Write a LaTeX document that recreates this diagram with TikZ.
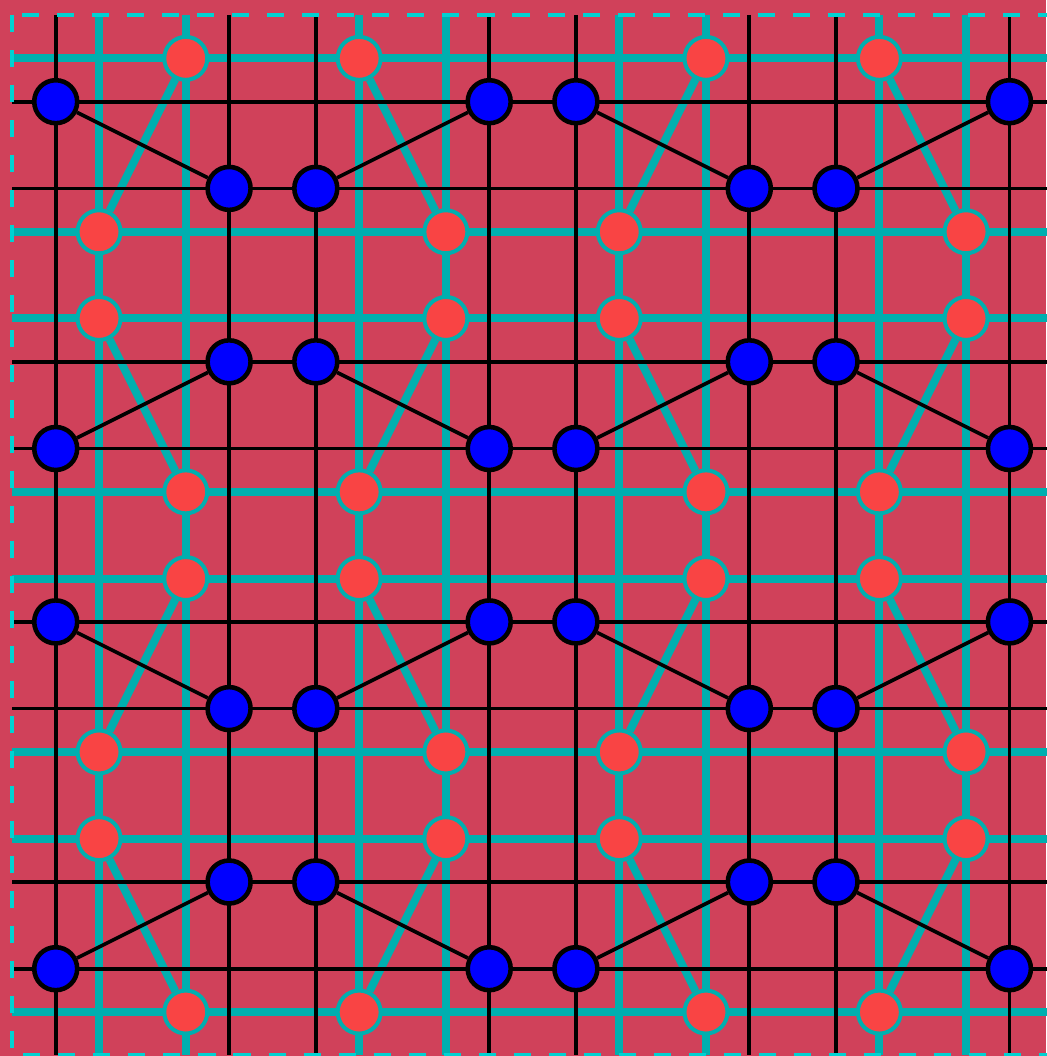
\documentclass[tikz,border=0pt]{standalone}
\usepackage[dvipsnames]{xcolor}
\usepackage{tikz}
\usetikzlibrary{calc}

\definecolor{wallred}{HTML}{D0415A}
\definecolor{tilecyan}{HTML}{00AFAF}
\definecolor{edgecyan}{HTML}{00D2D2}
\definecolor{dotred}{HTML}{F94444}

\begin{document}
\begin{tikzpicture} [x = 0.5cm, y = -0.5cm,
    thin bar/.style = {black, line width = 1.2pt},
    thick bar/.style = {tilecyan, line width = 2.6pt},
    blue dot/.style = {circle, draw = black, fill = blue, line width = 1.5pt, inner sep = 0pt, minimum size = 14.1pt},
    red dot/.style = {circle, draw = tilecyan, fill = dotred, line width = 1.3pt, inner sep = 0pt, minimum size = 14.1pt}]
                \fill [wallred] (-1.285, -2.346) rectangle (22.845, 22.014);
                \useasboundingbox (-1.285, -2.346) rectangle (22.845, 22.014);
                % cyan lattice with the red dots
                \foreach \c in {0, 12}
                  \foreach \d in {1, 3, 7, 9}
                    \draw [thick bar] (\c+\d, -2) -- (\c+\d, 22);
                \foreach \c in {0, 12}
                  \foreach \d in {-1, 3, 5, 9}
                    \draw [thick bar] (-1, \c+\d) -- (23, \c+\d);
                \foreach \i in {0, 1}
                  \foreach \j in {0, 1}
                    {
                    \foreach \dx/\dy [count = \k] in {3/-1, 7/-1, 1/3, 9/3, 1/5, 9/5, 3/9, 7/9}
                      \node [red dot] (rd\i\j-\k) at ({12*\i+\dx}, {12*\j+\dy}) {};
                    \foreach \a/\b in {1/3, 2/4, 5/7, 6/8}
                      \draw [thick bar] (rd\i\j-\a) -- (rd\i\j-\b);
                    }
                % black lattice with the blue dots
                \foreach \c in {0, 12}
                  \foreach \d in {0, 4, 6, 10}
                    \draw [thin bar] (\c+\d, -2) -- (\c+\d, 22);
                \foreach \c in {0, 12}
                  \foreach \d in {0, 2, 6, 8}
                    \draw [thin bar] (-1, \c+\d) -- (23, \c+\d);
                \foreach \i in {0, 1}
                  \foreach \j in {0, 1}
                    {
                    \foreach \dx/\dy [count = \k] in {0/0, 10/0, 4/2, 6/2, 4/6, 6/6, 0/8, 10/8}
                      \node [blue dot] (bl\i\j-\k) at ({12*\i+\dx}, {12*\j+\dy}) {};
                    \foreach \a/\b in {1/3, 2/4, 5/7, 6/8}
                      \draw [thin bar] (bl\i\j-\a) -- (bl\i\j-\b);
                    }
                \draw [edgecyan, line width = 1.4pt, dash pattern = on 5.6pt off 5.9pt] (-1, -2) rectangle (23, 22);
            \end{tikzpicture}
\end{document}
